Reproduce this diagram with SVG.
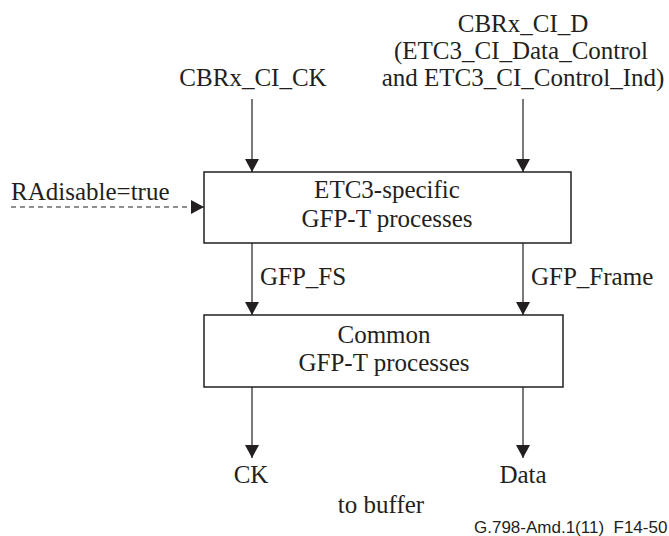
<svg xmlns="http://www.w3.org/2000/svg" width="669" height="536" viewBox="0 0 669 536">
  <style>
    .lbl { font-family: "Liberation Serif", "Times New Roman", serif; font-size: 25px; fill: #231f20; }
    .mid { text-anchor: middle; }
    .box { fill: #ffffff; stroke: #231f20; stroke-width: 1.5; }
    .wire { fill: none; stroke: #231f20; stroke-width: 1.2; }
    .dash { stroke-dasharray: 5 4; }
    .tag { font-family: "Liberation Sans", Arial, sans-serif; font-size: 17px; fill: #231f20; white-space: pre; }
  </style>
  <defs>
    <marker id="arrow" viewBox="0 0 13 14" refX="13" refY="7" markerWidth="13" markerHeight="14" markerUnits="userSpaceOnUse" orient="auto">
      <path d="M0,0 L13,7 L0,14 Z" fill="#231f20"/>
    </marker>
  </defs>
  <rect width="669" height="536" fill="#ffffff"/>

  <g id="connectors">
    <line class="wire" x1="252" y1="99" x2="252" y2="172" marker-end="url(#arrow)"/>
    <line class="wire" x1="523" y1="99" x2="523" y2="172" marker-end="url(#arrow)"/>
    <line class="wire dash" x1="11" y1="207" x2="204" y2="207" marker-end="url(#arrow)"/>
    <line class="wire" x1="252" y1="243" x2="252" y2="315" marker-end="url(#arrow)"/>
    <line class="wire" x1="523" y1="243" x2="523" y2="315" marker-end="url(#arrow)"/>
    <line class="wire" x1="252" y1="387" x2="252" y2="458" marker-end="url(#arrow)"/>
    <line class="wire" x1="523" y1="387" x2="523" y2="458" marker-end="url(#arrow)"/>
  </g>

  <g id="etc3-specific">
    <rect class="box" x="204" y="172" width="367" height="71"/>
    <text class="lbl mid" x="387" y="198">ETC3-specific</text>
    <text class="lbl mid" x="387" y="227">GFP-T processes</text>
  </g>

  <g id="common">
    <rect class="box" x="204" y="315" width="359" height="72"/>
    <text class="lbl mid" x="384" y="343">Common</text>
    <text class="lbl mid" x="384" y="371">GFP-T processes</text>
  </g>

  <g id="inputs">
    <text class="lbl mid" x="253" y="86">CBRx_CI_CK</text>
    <text class="lbl mid" x="523" y="32">CBRx_CI_D</text>
    <text class="lbl mid" x="521" y="59">(ETC3_CI_Data_Control</text>
    <text class="lbl mid" x="523" y="86">and ETC3_CI_Control_Ind)</text>
    <text class="lbl" x="11" y="200">RAdisable=true</text>
  </g>

  <g id="signals">
    <text class="lbl" x="260" y="285">GFP_FS</text>
    <text class="lbl" x="531" y="285">GFP_Frame</text>
  </g>

  <g id="outputs">
    <text class="lbl mid" x="251" y="483">CK</text>
    <text class="lbl mid" x="523" y="483">Data</text>
    <text class="lbl mid" x="381" y="513">to buffer</text>
  </g>

  <text class="tag" x="474" y="533" xml:space="preserve">G.798-Amd.1(11)  F14-50</text>
</svg>
